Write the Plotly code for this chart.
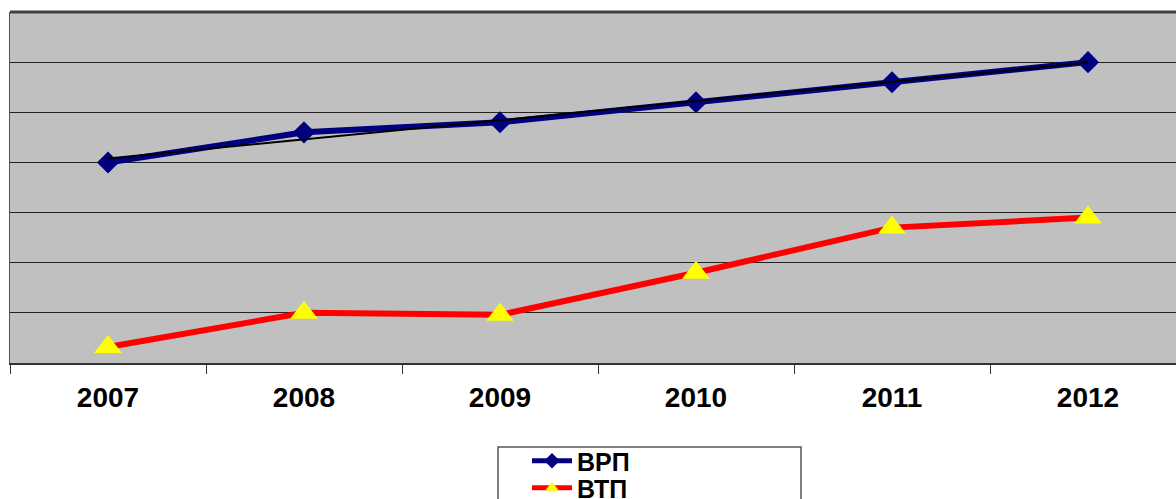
import numpy as np
import plotly.graph_objects as go

years = ["2007", "2008", "2009", "2010", "2011", "2012"]
vrp = [40, 46, 48, 52, 56, 60]
vtp = [3.2, 10, 9.6, 18, 27, 29]

W, H = 1176, 499
L, T = 10, 12
B = H - 363
PW = W - L
PH = H - T - B

def px_x(p):  # screen pixel -> paper x
    return (p - L) / PW

def px_y(p):  # screen pixel -> paper y
    return (H - B - p) / PH

xi = np.arange(len(years))
coef = np.polyfit(xi, vrp, 1)
trend = np.polyval(coef, xi)

FONT = "Liberation Sans, Arial, sans-serif"

fig = go.Figure()
fig.add_trace(go.Scatter(
    x=years, y=vrp, name="ВРП", mode="lines+markers", legend="legend",
    line=dict(color="#000080", width=6),
    marker=dict(symbol="diamond", size=17, color="#000080"),
))
fig.add_trace(go.Scatter(
    x=years, y=vtp, name="ВТП", mode="lines+markers", legend="legend2",
    line=dict(color="#FF0000", width=6),
    marker=dict(symbol="triangle-up", size=24, color="#FFFF00",
                line=dict(width=0)),
))
fig.add_trace(go.Scatter(
    x=years, y=trend, mode="lines", showlegend=False,
    line=dict(color="#000000", width=2), hoverinfo="skip",
))

# legend frame
fig.add_shape(type="rect", xref="paper", yref="paper",
              x0=px_x(498), x1=px_x(801), y0=px_y(447), y1=px_y(530),
              line=dict(color="#555555", width=1.5), fillcolor="rgba(0,0,0,0)")
# top border of plot area
fig.add_shape(type="line", xref="paper", yref="paper",
              x0=0, x1=1, y0=1, y1=1, layer="above",
              line=dict(color="#404040", width=3))

leg_common = dict(
    xanchor="left", yanchor="middle",
    bgcolor="rgba(0,0,0,0)", borderwidth=0,
    font=dict(size=25, family=FONT, color="black", weight="bold"),
    itemsizing="constant", itemwidth=40,
)

fig.update_layout(
    width=W, height=H,
    margin=dict(l=L, r=0, t=T, b=B, pad=0, autoexpand=False),
    paper_bgcolor="white",
    plot_bgcolor="#C0C0C0",
    font=dict(family=FONT, color="black"),
    showlegend=True,
    legend=dict(x=px_x(527), y=px_y(461), **leg_common),
    legend2=dict(x=px_x(527), y=px_y(488), **leg_common),
    xaxis=dict(
        type="category", range=[-0.5, -0.5 + PW / 196.0],
        showgrid=False, zeroline=False,
        showline=True, linecolor="#333333", linewidth=2,
        ticks="outside", tickson="boundaries", ticklen=9, tickcolor="#333333", tickwidth=1,
        tickfont=dict(size=28, family=FONT, color="black", weight="bold"),
        ticklabelstandoff=8,
    ),
    yaxis=dict(
        range=[0, 70], dtick=10, showticklabels=False,
        showgrid=True, gridcolor="#222222", gridwidth=1,
        zeroline=False, showline=True, linecolor="#555555", linewidth=1,
        ticks="", mirror=False,
    ),
)

fig.write_html(
    "out.html",
    config={"displayModeBar": False},
    post_script="document.body.style.margin='0';document.body.style.overflow='hidden';",
)
